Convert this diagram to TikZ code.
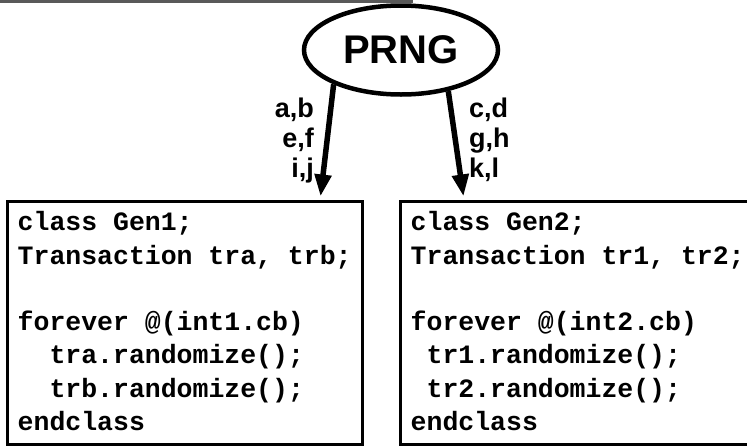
\documentclass[tikz,border=0pt]{standalone}
\usepackage{fontspec}
\setmainfont{Liberation Sans}
\setmonofont{Liberation Mono}
\usetikzlibrary{shapes.geometric,arrows.meta,calc}

\begin{document}
\begin{tikzpicture}[x=1pt, y=-1pt,
  genbox/.style={draw=black, line width=3pt, minimum width=355pt, minimum height=243pt, inner sep=0pt, anchor=north west},
  code/.style={anchor=base west, align=left, inner sep=0pt, font=\fontsize{26.5}{33.3}\selectfont\ttfamily\bfseries},
  seeds/.style={inner sep=0pt, font=\bfseries\fontsize{27}{27}\selectfont},
  feed/.style={line width=5.5pt, -{Triangle[length=22pt, width=16pt]}}]
  \useasboundingbox (0,0) rectangle (747,445);
  \fill[black!65] (0,0) rectangle (413,2.5);
  % random number generator
  \node[draw, ellipse, line width=4.5pt, minimum width=194pt, minimum height=89pt, inner sep=0pt, font=\fontsize{40}{40}\selectfont\bfseries] (prng) at (401,50) {PRNG};
  % the two generators
  \node[genbox] (gen1) at (5.5,199.5) {};
  \node[genbox, minimum width=360pt] (gen2) at (398.5,199.5) {};
  \node[code] (code1) at ($(gen1.south west)+(12,-15)$) {class Gen1;\\Transaction tra, trb;\\~\\forever @(int1.cb)\\\ \ tra.randomize();\\\ \ trb.randomize();\\endclass};
  \node[code] (code2) at ($(gen2.south west)+(12,-15)$) {class Gen2;\\Transaction tr1, tr2;\\~\\forever @(int2.cb)\\\ tr1.randomize();\\\ tr2.randomize();\\endclass};
  % seeds handed out
  \draw[feed] (prng.207) -- ($(gen1.north east)+(-43,-3)$);
  \draw[feed] (prng.319) -- ($(gen2.north west)+(65,-3)$);
  \node[seeds, align=right, anchor=north east] (seedsa) at (314,98) {a,b\\[3pt]e,f\\[3pt]i,j};
  \node[seeds, align=left, anchor=north west] (seedsb) at (469,98) {c,d\\[3pt]g,h\\[3pt]k,l};
\end{tikzpicture}
\end{document}
